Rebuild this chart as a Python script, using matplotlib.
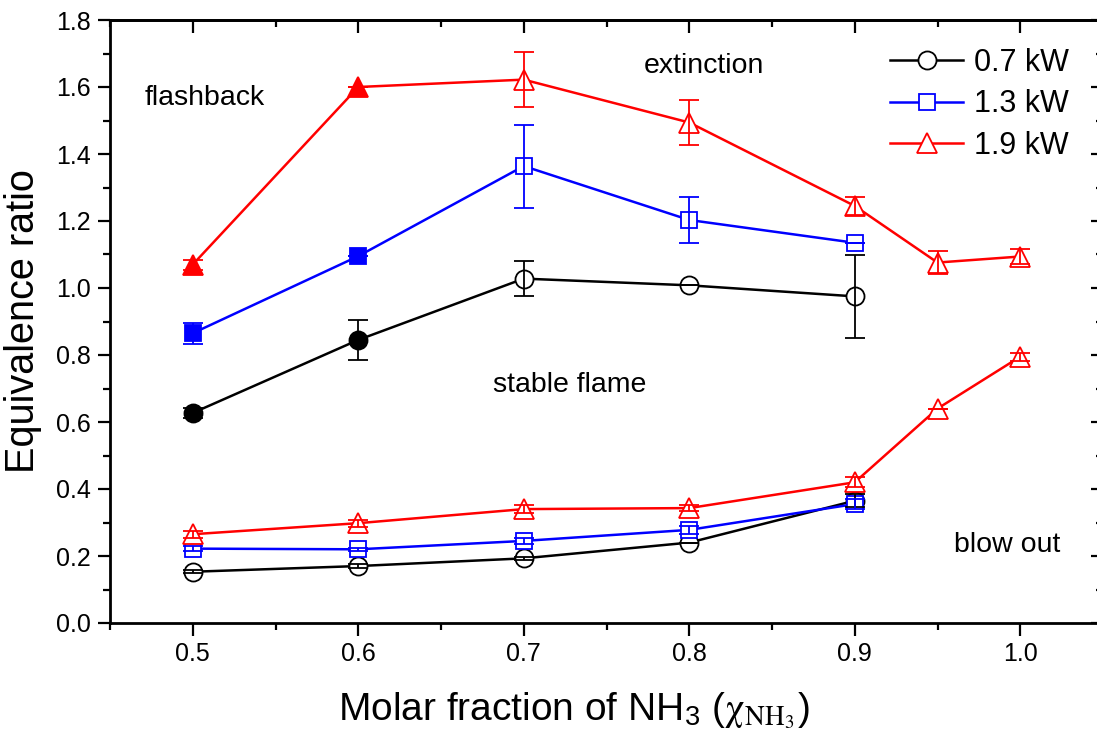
import matplotlib
matplotlib.use("Agg")
import matplotlib.pyplot as plt
from matplotlib.ticker import MultipleLocator
from matplotlib.lines import Line2D

plt.rcParams['font.family'] = ['Liberation Sans', 'DejaVu Sans']
plt.rcParams['mathtext.fontset'] = 'stix'

# ---- data ----
x_upper = [0.5, 0.6, 0.7, 0.8, 0.9]
x_upper19 = [0.5, 0.6, 0.7, 0.8, 0.9, 0.95, 1.0]
x_lower = [0.5, 0.6, 0.7, 0.8, 0.9]
x_lower19 = [0.5, 0.6, 0.7, 0.8, 0.9, 0.95, 1.0]

up_07 = [0.627, 0.845, 1.028, 1.008, 0.975]
up_07_err = [0.015, 0.060, 0.053, 0.0, 0.124]
up_13 = [0.865, 1.095, 1.364, 1.203, 1.135]
up_13_err = [0.032, 0.0, 0.124, 0.070, 0.0]
up_19 = [1.07, 1.60, 1.622, 1.494, 1.245, 1.076, 1.094]
up_19_err = [0.015, 0.0, 0.082, 0.067, 0.027, 0.034, 0.022]

lo_07 = [0.153, 0.170, 0.193, 0.240, 0.365]
lo_07_err = [0.005, 0.005, 0.005, 0.0, 0.020]
lo_13 = [0.222, 0.220, 0.245, 0.278, 0.355]
lo_13_err = [0.008, 0.005, 0.010, 0.012, 0.015]
lo_19 = [0.265, 0.298, 0.340, 0.343, 0.420, 0.640, 0.795]
lo_19_err = [0.010, 0.010, 0.012, 0.010, 0.015, 0.0, 0.012]

n_filled = 2  # first two upper points drawn with filled markers

labels = ['0.7 kW', '1.3 kW', '1.9 kW']
colors = ['black', '#0000FF', '#FF0000']
markers = ['o', 's', '^']
msizes = [13, 11, 15]

annotations = [('flashback', 0.5074, 1.567), ('extinction', 0.809, 1.663),
               ('stable flame', 0.728, 0.710), ('blow out', 0.992, 0.233)]

# ---- figure ----
fig = plt.figure(figsize=(10.97, 7.31), dpi=100)
ax = fig.add_axes([110/1097, 108/731, 993/1097, 603/731])

series = [
    (x_upper, up_07, up_07_err, x_lower, lo_07, lo_07_err),
    (x_upper, up_13, up_13_err, x_lower, lo_13, lo_13_err),
    (x_upper19, up_19, up_19_err, x_lower19, lo_19, lo_19_err),
]

lw = 1.8
for i, (xu, yu, eu, xl, yl, el) in enumerate(series):
    c = colors[i]; m = markers[i]; ms = msizes[i]
    for xs, ys, es, upper in ((xu, yu, eu, True), (xl, yl, el, False)):
        ax.plot(xs, ys, '-', color=c, lw=lw, zorder=2)
        fills = ['white'] * len(xs)
        if upper:
            for k in range(n_filled):
                fills[k] = c
        for xx, yy, fc in zip(xs, ys, fills):
            ax.plot([xx], [yy], linestyle='none', marker=m, ms=ms,
                    mfc=fc, mec=c, mew=1.3, zorder=3)
        ax.errorbar(xs, ys, yerr=es, fmt='none', ecolor=c, elinewidth=1.3,
                    capsize=7, capthick=1.3, zorder=4)

for txt, xx, yy in annotations:
    ax.text(xx, yy, txt, fontsize=20.5, ha='center', va='center')

ax.set_xlim(0.45, 1.05)
ax.set_ylim(0.0, 1.8)
ax.xaxis.set_major_locator(MultipleLocator(0.1))
ax.xaxis.set_minor_locator(MultipleLocator(0.05))
ax.yaxis.set_major_locator(MultipleLocator(0.2))
ax.yaxis.set_minor_locator(MultipleLocator(0.1))
ax.xaxis.set_major_formatter(plt.FuncFormatter(lambda v, p: f"{v:.1f}"))
ax.yaxis.set_major_formatter(plt.FuncFormatter(lambda v, p: f"{v:.1f}"))

ax.tick_params(axis='both', which='major', direction='out', length=9, width=1.6,
               labelsize=18, pad=5, top=False, right=False)
ax.tick_params(axis='both', which='minor', direction='out', length=5, width=1.6,
               top=False, right=False)
for s in ax.spines.values():
    s.set_linewidth(2.0)

secx = ax.secondary_xaxis('top')
secx.xaxis.set_major_locator(MultipleLocator(0.1))
secx.xaxis.set_minor_locator(MultipleLocator(0.05))
secx.tick_params(which='major', direction='in', length=9, width=1.6, labeltop=False)
secx.tick_params(which='minor', direction='in', length=5, width=1.6)
secx.spines['top'].set_linewidth(2.0)

secy = ax.secondary_yaxis('right')
secy.yaxis.set_major_locator(MultipleLocator(0.2))
secy.yaxis.set_minor_locator(MultipleLocator(0.1))
secy.tick_params(which='major', direction='in', length=9, width=1.6, labelright=False)
secy.tick_params(which='minor', direction='in', length=5, width=1.6)
secy.spines['right'].set_linewidth(2.0)

ax.set_xlabel(r"Molar fraction of NH$_\mathregular{3}$ ($\mathrm{\chi}_{\mathrm{NH_3}}$)",
              fontsize=28, labelpad=15)
ax.xaxis.set_label_coords((574 - 110) / 993, -0.112)
ax.xaxis.label.set_va('top')
ax.set_ylabel("Equivalence ratio", fontsize=28.5, labelpad=10)

handles = [Line2D([], [], color=colors[i], lw=lw, marker=markers[i], ms=msizes[i],
                  mfc='white', mec=colors[i], mew=1.3) for i in range(3)]
ax.legend(handles, labels, loc='upper left', bbox_to_anchor=((890-110)/993, (623-48)/603),
          frameon=False, fontsize=22, handlelength=2.4, handletextpad=0.35,
          labelspacing=0.37, borderpad=0, borderaxespad=0, numpoints=1)

fig.savefig('out.png', dpi=100)
